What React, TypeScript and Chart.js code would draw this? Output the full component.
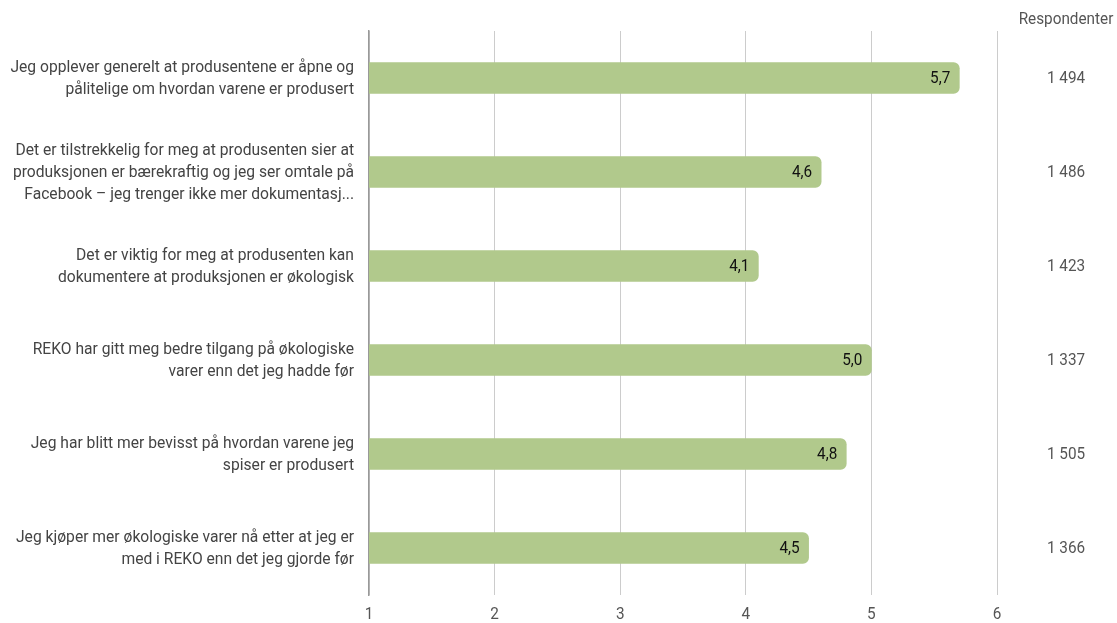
import React, { useEffect, useRef } from "react";
import { Chart, registerables } from "chart.js";

Chart.register(...registerables);

const categories: string[][] = [
  ["Jeg opplever generelt at produsentene er åpne og", "pålitelige om hvordan varene er produsert"],
  ["Det er tilstrekkelig for meg at produsenten sier at", "produksjonen er bærekraftig og jeg ser omtale på", "Facebook – jeg trenger ikke mer dokumentasj..."],
  ["Det er viktig for meg at produsenten kan", "dokumentere at produksjonen er økologisk"],
  ["REKO har gitt meg bedre tilgang på økologiske", "varer enn det jeg hadde før"],
  ["Jeg har blitt mer bevisst på hvordan varene jeg", "spiser er produsert"],
  ["Jeg kjøper mer økologiske varer nå etter at jeg er", "med i REKO enn det jeg gjorde før"],
];
const values: number[] = [5.7, 4.6, 4.1, 5.0, 4.8, 4.5];
const respondents: string[] = ["1 494", "1 486", "1 423", "1 337", "1 505", "1 366"];
const respondentsTitle = "Respondenter";
const xTicks: number[] = [1, 2, 3, 4, 5, 6];

const FONT = "Roboto, 'Noto Sans', sans-serif";

function condText(ctx: CanvasRenderingContext2D, text: string, x: number, y: number, sx = 0.9) {
  ctx.save();
  ctx.translate(x, y);
  ctx.scale(sx, 1);
  ctx.fillText(text, 0, 0);
  ctx.restore();
}

const overlayPlugin = {
  id: "overlay",
  afterDatasetsDraw(chart: any) {
    const ctx = chart.ctx as CanvasRenderingContext2D;
    const meta = chart.getDatasetMeta(0);
    const yScale = chart.scales.y;
    const xScale = chart.scales.x;
    ctx.save();
    ctx.textBaseline = "middle";
    // category labels
    ctx.font = `17px ${FONT}`;
    ctx.fillStyle = "#444";
    ctx.textAlign = "right";
    const lh = 22;
    categories.forEach((lines, i) => {
      const cy = yScale.getPixelForValue(i);
      const start = cy - ((lines.length - 1) * lh) / 2;
      lines.forEach((ln, j) => condText(ctx, ln, 354, start + j * lh + 1, 0.92));
    });
    // value labels
    ctx.font = `17px ${FONT}`;
    ctx.fillStyle = "#111";
    ctx.textAlign = "right";
    meta.data.forEach((bar: any, i: number) => {
      condText(ctx, values[i].toFixed(1).replace(".", ","), bar.x - 9, bar.y + 1);
    });
    // x tick labels
    ctx.fillStyle = "#555";
    ctx.textAlign = "center";
    xTicks.forEach((v) => condText(ctx, String(v), xScale.getPixelForValue(v), 615));
    // respondents column
    ctx.fillStyle = "#555";
    ctx.textAlign = "center";
    respondents.forEach((r, i) => {
      condText(ctx, r, 1066, yScale.getPixelForValue(i) + 1);
    });
    condText(ctx, respondentsTitle, 1066, 20);
    ctx.restore();
  },
};

export default function App() {
  const ref = useRef<HTMLCanvasElement | null>(null);
  useEffect(() => {
    if (!ref.current) return;
    const chart = new Chart(ref.current, {
      type: "bar",
      data: {
        labels: categories.map((c) => c.join(" ")),
        datasets: [
          {
            data: values,
            backgroundColor: "#b1c98c",
            borderRadius: 6,
            borderSkipped: false,
            barThickness: 31,
          },
        ],
      },
      options: {
        indexAxis: "y",
        animation: false,
        responsive: false,
        maintainAspectRatio: false,
        layout: { padding: { top: 31, right: 120, bottom: 0, left: 0 } },
        plugins: { legend: { display: false }, tooltip: { enabled: false } },
        scales: {
          x: {
            min: 1,
            max: 6,
            afterBuildTicks: (scale: any) => {
              scale.ticks = xTicks.map((v) => ({ value: v }));
            },
            afterFit: (scale: any) => {
              scale.height = 28;
            },
            grid: { color: "#cccccc", lineWidth: 1, drawTicks: false },
            border: { display: false },
            ticks: { display: false },
          },
          y: {
            afterFit: (scale: any) => {
              scale.width = 369;
            },
            grid: { display: false, drawTicks: false },
            border: { display: true, color: "#999", width: 1.5 },
            ticks: { display: false },
          },
        },
      },
      plugins: [overlayPlugin],
    });
    return () => chart.destroy();
  }, []);
  return (
    <div style={{ position: "fixed", left: 0, top: 0, width: 1117, height: 623, background: "#fff" }}>
      <canvas ref={ref} width={1117} height={623} style={{ display: "block" }} />
    </div>
  );
}
